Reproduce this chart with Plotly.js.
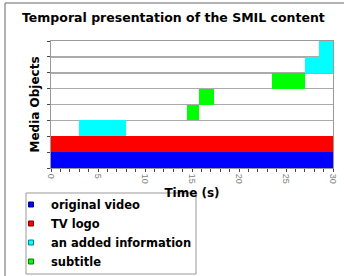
<!DOCTYPE html>
<html>
<head>
<meta charset="utf-8">
<script src="https://cdn.plot.ly/plotly-3.0.1.min.js"></script>
<style>html,body{margin:0;padding:0;background:#fff;}#chart{width:344px;height:276px;}</style>
</head>
<body>
<div id="chart"></div>
<script>
// Rows (bottom to top) with start/end times in seconds
const rows = [0, 1, 2, 3, 4, 5, 6, 7];
const rowStart = [0, 0, 3, 14.5, 15.7, 23.5, 27, 28.5];
const rowEnd   = [30, 30, 8, 15.7, 17.3, 27, 30, 30];
const rowType  = ["original video", "TV logo", "an added information", "subtitle", "subtitle", "subtitle", "an added information", "an added information"];
const typeNames  = ["original video", "TV logo", "an added information", "subtitle"];
const typeColors = ["#0000ff", "#ff0000", "#00ffff", "#00ff00"];
const typeBorder = ["#00007a", "#7a0000", "#008080", "#007a00"];
const xTickVals = [0, 5, 10, 15, 20, 25, 30];
const rowBoundaries = [-0.5, 0.5, 1.5, 2.5, 3.5, 4.5, 5.5, 6.5, 7.5];

const traces = [];
typeNames.forEach((name, k) => {
  const ys = [], bases = [], lens = [];
  rows.forEach((r, i) => {
    if (rowType[i] === name) { ys.push(r); bases.push(rowStart[i]); lens.push(rowEnd[i] - rowStart[i]); }
  });
  traces.push({
    type: 'bar', orientation: 'h', y: ys, x: lens, base: bases, width: 1,
    marker: {color: typeColors[k], line: {width: 0}}, showlegend: false, hoverinfo: 'skip'
  });
});
typeNames.forEach((name, k) => {
  traces.push({
    type: 'scatter', mode: 'markers', x: [null], y: [null], name: name,
    marker: {symbol: 'square', size: 5, color: typeColors[k], line: {color: typeBorder[k], width: 1}}
  });
});

const W = 344, H = 276;
const L = 51, R = 11, T = 41, B = 108;
const pw = W - L - R, ph = H - T - B;
const px = v => (v - L) / pw;
const py = v => (H - B - v) / ph;
const FONT = 'DejaVu Sans, Verdana, sans-serif';

const layout = {
  width: W, height: H,
  margin: {l: L, r: R, t: T, b: B, pad: 0, autoexpand: false},
  paper_bgcolor: '#fff', plot_bgcolor: '#fff',
  font: {family: FONT, color: '#000'},
  title: {text: '<b>Temporal presentation of the SMIL content</b>', font: {size: 12.5, color: '#000', family: FONT},
          xref: 'container', x: 22 / W, xanchor: 'left', yref: 'container', y: 1 - 18 / H, yanchor: 'middle'},
  bargap: 0,
  xaxis: {
    range: [0, 30], tickvals: xTickVals, ticktext: xTickVals.map(String),
    tickangle: 90, tickfont: {size: 9, color: '#808080', family: 'Liberation Sans, Arial, sans-serif'},
    ticks: 'outside', ticklen: 3, tickcolor: '#444',
    minor: {dtick: 1, ticks: 'outside', ticklen: 3, tickcolor: '#444'},
    showgrid: false, zeroline: false, automargin: false,
    showline: true, mirror: true, linecolor: '#999', linewidth: 1,
    title: {text: '<b>Time (s)</b>', font: {size: 12, family: FONT}, standoff: 5},
    fixedrange: true
  },
  yaxis: {
    range: [-0.5, 7.5], tickvals: rowBoundaries, showticklabels: false,
    ticks: 'outside', ticklen: 3, tickcolor: '#444',
    showgrid: true, gridcolor: '#aaaaaa', gridwidth: 1.5, zeroline: false, automargin: false,
    showline: true, mirror: true, linecolor: '#999', linewidth: 1,
    title: {text: '<b>Media Objects</b>', font: {size: 12, family: FONT}, standoff: 4},
    fixedrange: true
  },
  legend: {
    x: px(11), y: py(190), xanchor: 'left', yanchor: 'top',
    borderwidth: 0, bgcolor: 'rgba(0,0,0,0)',
    font: {size: 11.5, color: '#000', family: FONT, weight: 'bold'},
    itemwidth: 30, tracegroupgap: 0
  },
  shapes: [
    {type: 'line', xref: 'paper', yref: 'paper', x0: px(5), x1: px(5), y0: py(3), y1: py(400), line: {color: '#999', width: 1.5}},
    {type: 'line', xref: 'paper', yref: 'paper', x0: px(5), x1: px(400), y0: py(3), y1: py(3), line: {color: '#999', width: 1.5}},
    {type: 'rect', xref: 'paper', yref: 'paper', x0: px(26), x1: px(196), y0: py(193), y1: py(274), line: {color: '#999', width: 1}, fillcolor: 'rgba(0,0,0,0)', layer: 'below'}
  ]
};

Plotly.newPlot('chart', traces, layout, {displayModeBar: false, staticPlot: true});
</script>
</body>
</html>
